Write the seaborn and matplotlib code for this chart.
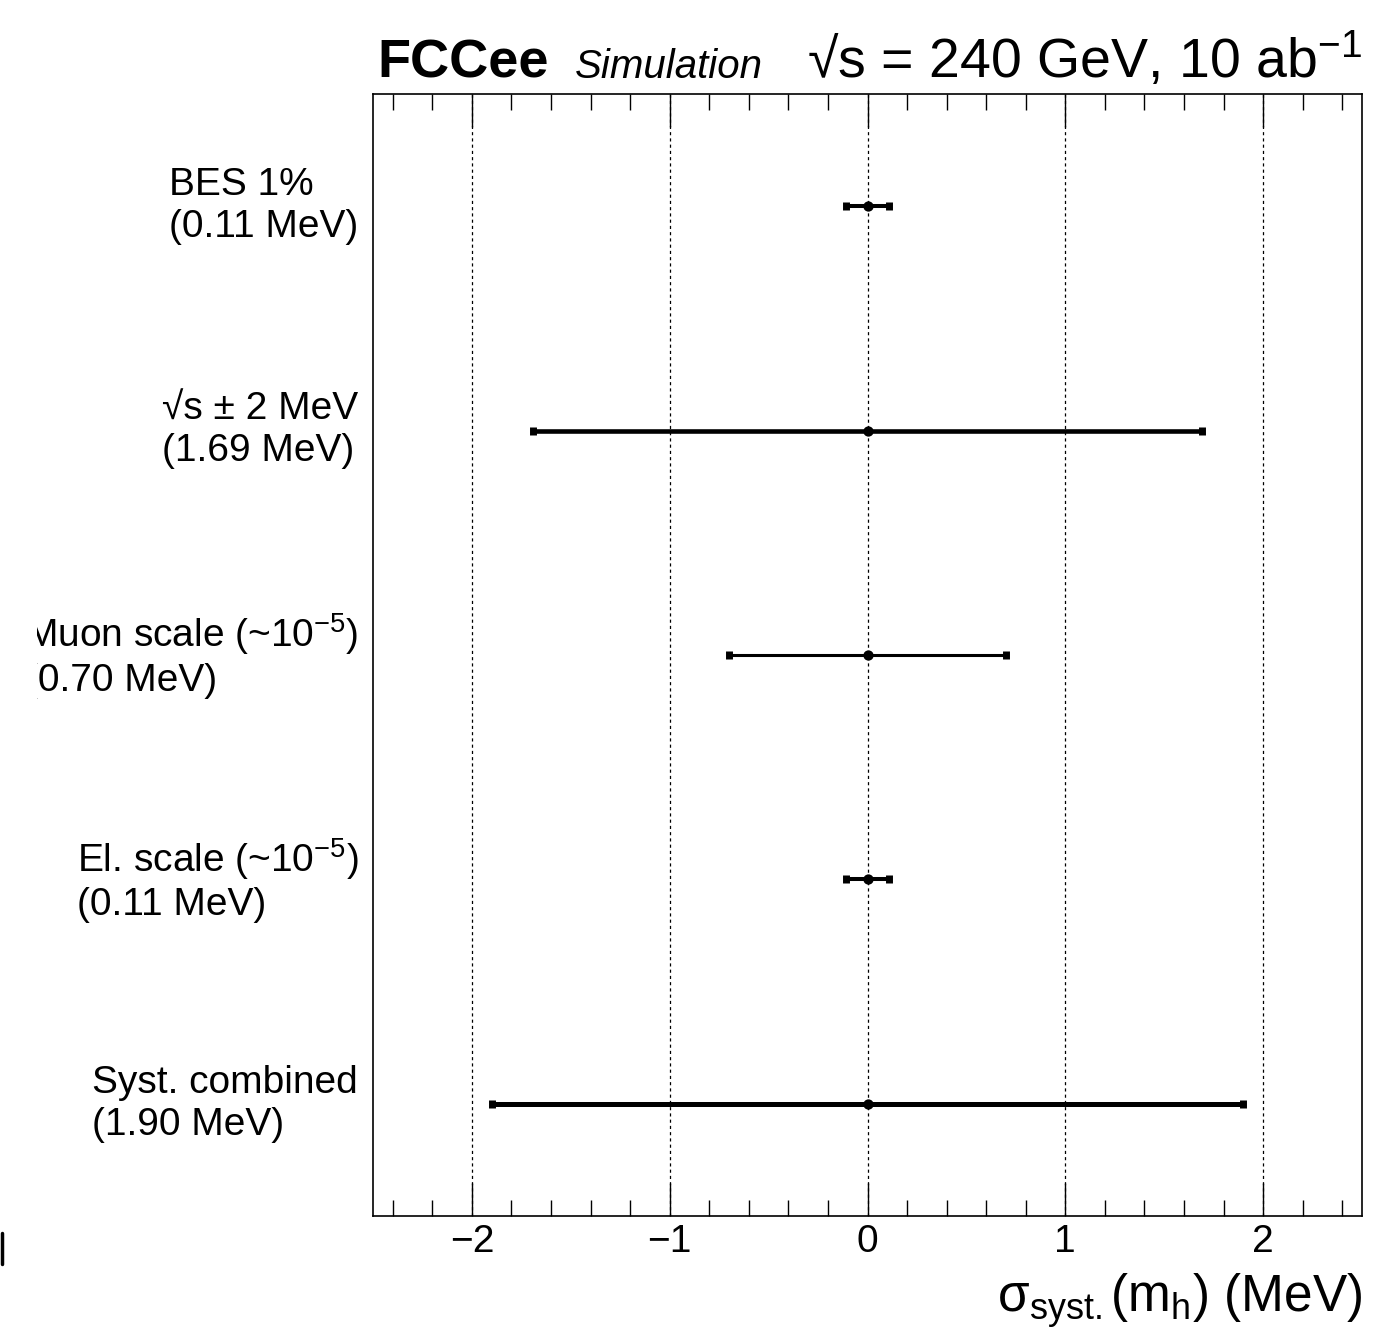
import matplotlib
matplotlib.use("Agg")
import matplotlib.pyplot as plt
import seaborn as sns
import numpy as np
import pandas as pd
from matplotlib.ticker import MultipleLocator
from matplotlib.transforms import Bbox, TransformedBbox
from matplotlib.lines import Line2D

# ---- data ----
labels = [
    "BES 1%\n(0.11 MeV)",
    "\u221as \u00b1 2 MeV\n(1.69 MeV)",
    "Muon scale (~10$^{-5}$)\n(0.70 MeV)",
    "El. scale (~10$^{-5}$)\n(0.11 MeV)",
    "Syst. combined\n(1.90 MeV)",
]
centers = [0.0, 0.0, 0.0, 0.0, 0.0]
uncertainties = [0.11, 1.69, 0.70, 0.11, 1.90]
bar_widths = [2.9, 3.3, 2.2, 2.9, 3.6]
xticks = [-2, -1, 0, 1, 2]

sns.set_theme(style="ticks")
plt.rcParams["font.family"] = ["Liberation Sans", "DejaVu Sans"]
plt.rcParams["mathtext.fontset"] = "custom"
plt.rcParams["mathtext.rm"] = "Liberation Sans"
plt.rcParams["mathtext.it"] = "Liberation Sans:italic"
plt.rcParams["mathtext.bf"] = "Liberation Sans:bold"
for k in ["text.color", "axes.labelcolor", "xtick.color", "ytick.color",
          "axes.edgecolor", "xtick.labelcolor"]:
    plt.rcParams[k] = "black"

n = len(labels)
ypos = [n - i - 0.5 for i in range(n)]
df = pd.DataFrame({"label": labels, "center": centers, "unc": uncertainties, "y": ypos})

fig = plt.figure(figsize=(13.73, 13.32), dpi=100)
ax = fig.add_axes([373 / 1373, 1 - 1216 / 1332, (1362 - 373) / 1373, (1216 - 94) / 1332])

# grid lines
for xv in xticks:
    ax.axvline(xv, color="black", lw=0.9, ls=(0, (2.5, 2.5)), zorder=1)

# error bars
for i, row in df.iterrows():
    ax.errorbar(row["center"], row["y"], xerr=row["unc"], fmt="none",
                ecolor="black", elinewidth=bar_widths[i], capsize=2.8,
                capthick=5, zorder=3)

sns.scatterplot(data=df, x="center", y="y", color="black", s=55,
                edgecolor="black", linewidth=0, zorder=4, ax=ax, legend=False)

ax.set_xlim(-2.5, 2.5)
ax.set_ylim(0, 5)
ax.set_xlabel("")
ax.set_ylabel("")
ax.set_yticks([])
ax.xaxis.set_major_locator(MultipleLocator(1))
ax.xaxis.set_minor_locator(MultipleLocator(0.2))
ax.tick_params(axis="x", which="major", direction="in", length=24, width=1.0,
               top=True, bottom=True, labelsize=28, pad=6, color="black",
               labelcolor="black")
ax.tick_params(axis="x", which="minor", direction="in", length=11.5, width=1.0,
               top=True, bottom=True, color="black")
for sp in ax.spines.values():
    sp.set_linewidth(1.2)
    sp.set_color("black")

# category labels
clip = TransformedBbox(Bbox.from_extents(37 / 1373, 0, 1, 1), fig.transFigure)
for i, row in df.iterrows():
    t = ax.text(-0.015, row["y"] / 5.0, row["label"], transform=ax.transAxes,
                ha="right", va="center", multialignment="left",
                fontsize=28, linespacing=1.2, color="black")
    t.set_clip_box(clip)
    t.set_clip_on(True)

# header
fig.text(377 / 1373, 1 - 78 / 1332, "FCCee", fontsize=39, fontweight="bold",
         ha="left", va="baseline", color="black")
fig.text(575 / 1373, 1 - 78 / 1332, "Simulation", fontsize=29, fontstyle="italic",
         ha="left", va="baseline", color="black")
fig.text(1362 / 1373, 1 - 78 / 1332, "\u221as = 240 GeV, 10 ab$^{-1}$",
         fontsize=40, ha="right", va="baseline", color="black")

# x label
fig.text(1362 / 1373, 1 - 1312 / 1332,
         "\u03c3$_{\\mathrm{syst.}}$(m$_{\\mathrm{h}}$) (MeV)",
         fontsize=37, ha="right", va="baseline", color="black")

# stray mark at left edge
fig.add_artist(Line2D([1.5 / 1373, 1.5 / 1373], [1 - 1233 / 1332, 1 - 1264 / 1332],
                      transform=fig.transFigure, color="black", lw=2.5))

fig.savefig("out.png", dpi=100)
